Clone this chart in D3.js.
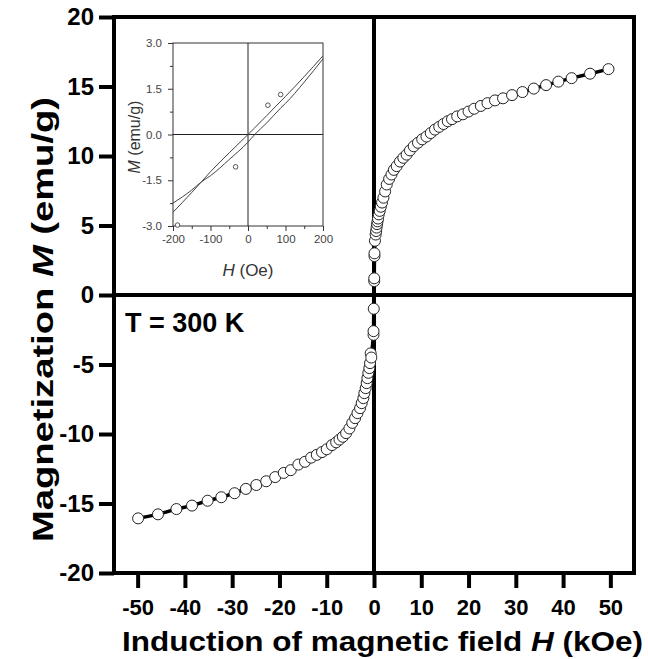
<html>
<head>
<meta charset="utf-8">
<title>magnetization curve</title>
<script src="https://d3js.org/d3.v7.min.js"></script>
<style>
	body, html{
		margin: 0;
		padding: 0;
		background: #fff;
	}
	svg{
		display: block;
		font-family: Arial, "Liberation Sans", sans-serif;
	}
	.bold{
		font-weight: bold;
	}
</style>
</head>
<body>
<svg id="chart" width="648" height="659"></svg>

<script>
	// main loop, H in kOe, M in emu/g
	var negH = [-49.9, -45.7, -41.8, -38.5, -35.2, -32.3, -29.5, -27.1, -24.9, -22.8, -20.9, -19.1, -17.6, -16.0, -14.6, -13.3, -12.1, -11.0, -10.0, -8.9, -8.0, -7.3, -6.6, -5.9, -5.2, -4.6, -4.0, -3.5, -2.95, -2.6, -2.25, -2.04, -1.76, -1.55, -1.4, -1.2, -0.98, -0.84, -0.7, -0.57, -0.1, -0.1, -0.05];
	var negM = [-16.07, -15.78, -15.4, -15.15, -14.8, -14.55, -14.26, -13.95, -13.67, -13.4, -13.1, -12.8, -12.6, -12.2, -12.0, -11.7, -11.5, -11.3, -11.1, -10.8, -10.6, -10.4, -10.2, -9.94, -9.6, -9.2, -8.86, -8.5, -8.14, -7.78, -7.42, -7.06, -6.7, -6.34, -5.98, -5.6, -5.26, -4.9, -4.2, -4.5, -2.86, -2.6, -0.99];
	var posH = [0.05, 0.05, 0.1, 0.1, 0.2, 0.35, 0.45, 0.55, 0.65, 0.75, 0.85, 1.0, 1.2, 1.45, 1.7, 2.0, 2.35, 2.7, 3.2, 3.7, 4.2, 4.8, 5.5, 6.2, 6.9, 7.6, 8.4, 9.3, 10.2, 11.1, 12.0, 12.9, 13.8, 14.7, 15.6, 16.5, 17.6, 18.8, 20.0, 21.2, 22.6, 24.0, 25.6, 27.3, 29.2, 31.4, 33.8, 36.4, 39.0, 41.8, 45.7, 49.6];
	var posM = [1.0, 1.2, 2.8, 3.0, 3.9, 4.35, 4.6, 4.85, 5.1, 5.3, 5.5, 5.8, 6.05, 6.35, 6.65, 7.0, 7.45, 7.95, 8.35, 8.67, 9.0, 9.27, 9.6, 9.87, 10.1, 10.4, 10.7, 10.95, 11.2, 11.4, 11.65, 11.9, 12.1, 12.3, 12.5, 12.65, 12.85, 13.0, 13.2, 13.4, 13.6, 13.8, 14.0, 14.15, 14.38, 14.6, 14.85, 15.1, 15.35, 15.6, 15.92, 16.25];

	var xTicks = [-50, -40, -30, -20, -10, 0, 10, 20, 30, 40, 50];
	var yTicks = [-20, -15, -10, -5, 0, 5, 10, 15, 20];

	// inset, H in Oe
	var insetH = [-200, -150, -124, -100, -50, 0, 18, 50, 88, 100, 150, 200];
	var insetUpper = [-2.55, -1.9, -1.55, -1.22, -0.6, 0.0, 0.22, 0.62, 1.1, 1.25, 1.9, 2.58];
	var insetLower = [-2.25, -1.82, -1.55, -1.35, -0.82, -0.25, 0.0, 0.38, 0.88, 1.02, 1.72, 2.48];
	var insetPtH = [-188, -33, 53, 87];
	var insetPtM = [-2.97, -1.06, 0.96, 1.31];
	var insetXTicks = [-200, -100, 0, 100, 200];
	var insetXMinor = [-150, -50, 50, 150];
	var insetYTicks = [-3.0, -1.5, 0.0, 1.5, 3.0];
	var insetYMinor = [-2.25, -0.75, 0.75, 2.25];

	var svg = d3.select('#chart');

	var x = d3.scaleLinear().domain([-55, 55]).range([114, 634]),
		y = d3.scaleLinear().domain([-20, 20]).range([573, 17]);

	// plain hyphen, not the unicode minus
	function intFmt(d) { return String(d); }
	function oneFmt(d) { return d.toFixed(1); }

	// axes
	var yAxis = d3.axisLeft(y).tickValues(yTicks).tickSize(15).tickPadding(5).tickFormat(intFmt);
	var gy = svg.append('g').attr('transform', 'translate(114,0)').call(yAxis);
	gy.select('.domain').remove();
	gy.selectAll('line').attr('stroke', '#000').attr('stroke-width', 4);
	gy.selectAll('text').attr('class', 'bold').attr('font-size', 24).attr('fill', '#000');

	var xAxis = d3.axisBottom(x).tickValues(xTicks).tickSize(15).tickFormat(intFmt);
	var gx = svg.append('g').attr('transform', 'translate(0,573)').call(xAxis);
	gx.select('.domain').remove();
	gx.selectAll('line').attr('stroke', '#000').attr('stroke-width', 4);
	gx.selectAll('text').attr('class', 'bold').attr('font-size', 22).attr('fill', '#000')
		.attr('y', 42).attr('dy', 0);

	// zero lines
	svg.append('line').attr('x1', x(0)).attr('x2', x(0)).attr('y1', y(20)).attr('y2', y(-20))
		.attr('stroke', '#000').attr('stroke-width', 4);
	svg.append('line').attr('x1', x(-55)).attr('x2', x(55)).attr('y1', y(0)).attr('y2', y(0))
		.attr('stroke', '#000').attr('stroke-width', 4);

	// inset
	var ix = d3.scaleLinear().domain([-200, 200]).range([173, 323]),
		iy = d3.scaleLinear().domain([-3, 3]).range([226, 43]);

	var inset = svg.append('g');
	inset.append('rect').attr('x', ix(-200)).attr('y', iy(3)).attr('width', ix(200) - ix(-200)).attr('height', iy(-3) - iy(3))
		.attr('fill', '#fff').attr('stroke', '#333').attr('stroke-width', 1);
	inset.append('line').attr('x1', ix(0)).attr('x2', ix(0)).attr('y1', iy(3)).attr('y2', iy(-3)).attr('stroke', '#222').attr('stroke-width', 1);
	inset.append('line').attr('x1', ix(-200)).attr('x2', ix(200)).attr('y1', iy(0)).attr('y2', iy(0)).attr('stroke', '#222').attr('stroke-width', 1);

	var ixAxis = d3.axisBottom(ix).tickValues(insetXTicks).tickSize(5).tickPadding(4).tickFormat(intFmt);
	var gix = inset.append('g').attr('transform', 'translate(0,' + iy(-3) + ')').call(ixAxis);
	gix.select('.domain').remove();
	gix.selectAll('line').attr('stroke', '#333');
	gix.selectAll('text').attr('font-size', 11.5).attr('fill', '#444');
	var gixm = inset.append('g').attr('transform', 'translate(0,' + iy(-3) + ')')
		.call(d3.axisBottom(ix).tickValues(insetXMinor).tickSize(3).tickFormat(''));
	gixm.select('.domain').remove();
	gixm.selectAll('line').attr('stroke', '#333');

	var iyAxis = d3.axisLeft(iy).tickValues(insetYTicks).tickSize(5).tickPadding(6).tickFormat(oneFmt);
	var giy = inset.append('g').attr('transform', 'translate(' + ix(-200) + ',0)').call(iyAxis);
	giy.select('.domain').remove();
	giy.selectAll('line').attr('stroke', '#333');
	giy.selectAll('text').attr('font-size', 11.5).attr('fill', '#444');
	var giym = inset.append('g').attr('transform', 'translate(' + ix(-200) + ',0)')
		.call(d3.axisLeft(iy).tickValues(insetYMinor).tickSize(3).tickFormat(''));
	giym.select('.domain').remove();
	giym.selectAll('line').attr('stroke', '#333');

	var iline = d3.line().curve(d3.curveMonotoneX);
	inset.append('path').attr('d', iline(insetH.map(function(h, i){ return [ix(h), iy(insetUpper[i])]; })))
		.attr('fill', 'none').attr('stroke', '#444').attr('stroke-width', 1);
	inset.append('path').attr('d', iline(insetH.map(function(h, i){ return [ix(h), iy(insetLower[i])]; })))
		.attr('fill', 'none').attr('stroke', '#444').attr('stroke-width', 1);
	inset.selectAll('circle.ip').data(insetPtH).enter().append('circle').attr('class', 'ip')
		.attr('cx', function(d){ return ix(d); })
		.attr('cy', function(d, i){ return iy(insetPtM[i]); })
		.attr('r', 2.3).attr('fill', '#fff').attr('stroke', '#444').attr('stroke-width', 0.9);

	inset.append('text').attr('x', ix(0)).attr('y', 276).attr('text-anchor', 'middle').attr('font-size', 17).attr('fill', '#333')
		.html('<tspan font-style="italic">H</tspan> (Oe)');
	inset.append('text').attr('transform', 'translate(140,137) rotate(-90)').attr('text-anchor', 'middle')
		.attr('font-size', 16).attr('fill', '#333')
		.html('<tspan font-style="italic">M</tspan> (emu/g)');

	// data
	var pts = [];
	for (var i = 0; i < negH.length; i += 1) {
		pts.push([negH[i], negM[i]]);
	}
	for (var j = 0; j < posH.length; j += 1) {
		pts.push([posH[j], posM[j]]);
	}
	var line = d3.line().x(function(d){ return x(d[0]); }).y(function(d){ return y(d[1]); });
	svg.append('path').attr('d', line(pts)).attr('fill', 'none').attr('stroke', '#000').attr('stroke-width', 3.5);
	svg.selectAll('circle.pt').data(pts).enter().append('circle').attr('class', 'pt')
		.attr('cx', function(d){ return x(d[0]); })
		.attr('cy', function(d){ return y(d[1]); })
		.attr('r', 5.5).attr('fill', '#fff').attr('stroke', '#222').attr('stroke-width', 1);

	// frame
	svg.append('rect').attr('x', x(-55)).attr('y', y(20)).attr('width', x(55) - x(-55)).attr('height', y(-20) - y(20))
		.attr('fill', 'none').attr('stroke', '#000').attr('stroke-width', 4);

	// labels
	svg.append('text').attr('class', 'bold').attr('x', 125).attr('y', 332).attr('font-size', 27).attr('fill', '#000')
		.text('T = 300 K');
	svg.append('text').attr('class', 'bold').attr('x', 122).attr('y', 651).attr('font-size', 28).attr('fill', '#000')
		.attr('textLength', 521).attr('lengthAdjust', 'spacingAndGlyphs')
		.html('Induction of magnetic field <tspan font-style="italic">H</tspan> (kOe)');
	svg.append('text').attr('class', 'bold').attr('transform', 'translate(53,97) rotate(-90)').attr('text-anchor', 'end')
		.attr('font-size', 29).attr('fill', '#000')
		.attr('textLength', 445).attr('lengthAdjust', 'spacingAndGlyphs')
		.html('Magnetization <tspan font-style="italic">M</tspan> (emu/g)');
</script>
</body>
</html>
